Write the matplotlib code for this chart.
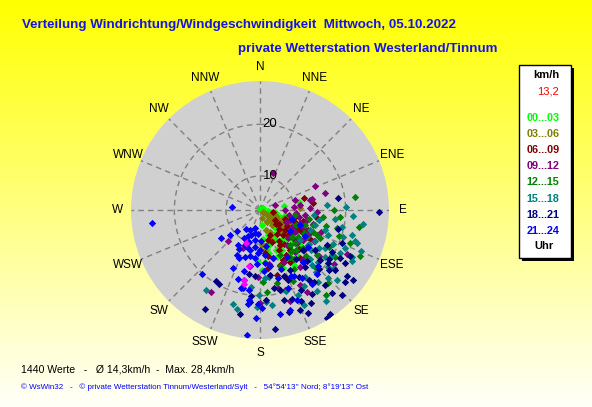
import numpy as np
import matplotlib
matplotlib.use("Agg")
import matplotlib.pyplot as plt
from matplotlib.patches import Rectangle

plt.rcParams['font.family'] = ['Liberation Sans', 'DejaVu Sans']

# wind direction (deg) / speed (km/h) per time slot
h00_03 = [(10, 3.6), (80, 8.1), (101, 6.5), (78, 11.1), (113, 11.8), (120, 13.9), (172, 6.3), (160, 7.9),
          (153, 9.9), (151, 12.2), (174, 13.5), (170, 14.3), (150, 14.6), (133, 11.4), (131, 13.7), (182, 13.5),
          (178, 15.0), (101, 8.3), (60, 4.0), (95, 5.0), (140, 8.0), (145, 10.5), (125, 9.0), (135, 12.5),
          (155, 11.5), (165, 10.5), (168, 12.0), (160, 13.0), (145, 13.5), (115, 10.0), (130, 10.0), (140, 15.0),
          (175, 9.0), (158, 15.5), (110, 7.5), (120, 12.0), (148, 16.0), (162, 8.5), (128, 7.0), (150, 9.0),
          (137, 10.8), (122, 11.0), (158, 11.8), (143, 12.0), (170, 11.0), (132, 8.5)]
h03_06 = [(124, 4.1), (125, 5.1), (125, 5.7), (123, 6.6), (121, 7.5), (119, 8.2), (118, 9.1), (118, 10.0),
          (119, 11.0), (111, 6.7), (141, 5.9), (141, 7.1), (108, 8.3), (166, 5.0), (132, 8.6), (128, 10.3),
          (163, 7.5), (177, 10.2), (173, 11.2), (87, 11.2), (120, 4.8), (127, 6.2), (116, 7.0), (122, 8.8),
          (114, 9.5), (130, 7.0), (135, 6.5), (112, 10.5), (150, 6.0), (126, 9.5), (118, 5.5), (140, 9.0),
          (155, 8.0), (160, 9.5), (120, 11.5), (124, 7.8), (117, 6.0), (122, 10.2), (129, 8.0), (133, 9.5),
          (110, 9.0), (126, 11.0)]
h06_09 = [(75, 12.2), (98, 14.6), (109, 10.6), (132, 10.7), (83, 13.8), (99, 5.9), (126, 8.0), (173, 11.7),
          (165, 16.4), (160, 17.3), (172, 14.7), (124, 6.9), (129, 9.6), (131, 12.3), (150, 11.2), (117, 12.1),
          (143, 13.1), (158, 8.6), (132, 15.0), (110, 8.5), (115, 11.0), (120, 9.5), (138, 10.0), (145, 9.0),
          (150, 13.5), (155, 12.0), (160, 10.0), (165, 13.0), (125, 13.5), (135, 14.0), (105, 12.0), (140, 15.5),
          (150, 15.0), (120, 14.5), (100, 10.5), (165, 9.5), (130, 7.5), (145, 11.5), (112, 13.5), (170, 12.5),
          (118, 12.8), (128, 11.0), (142, 12.5), (135, 8.5), (155, 14.0), (148, 10.5), (123, 10.8), (160, 14.8)]
h09_12 = [(19, 11.0), (66, 15.0), (75, 16.4), (78, 13.7), (100, 9.2), (117, 22.3), (126, 21.2), (162, 22.0),
          (150, 21.8), (226, 12.0), (211, 21.9), (204, 11.5), (182, 16.4), (180, 21.4), (167, 18.9), (74, 10.4),
          (83, 11.2), (90, 8.2), (108, 9.6), (96, 12.1), (72, 6.5), (79, 13.3), (163, 19.7), (152, 19.9),
          (100, 11.0), (112, 12.5), (118, 10.5), (125, 13.5), (130, 12.0), (140, 14.0), (135, 11.0), (88, 13.0),
          (85, 10.0), (105, 14.0), (120, 15.5), (145, 17.0), (155, 14.5), (128, 18.0), (115, 9.0), (95, 10.5),
          (110, 16.0), (92, 14.5), (170, 14.0), (138, 16.0), (122, 11.5), (132, 13.0), (108, 11.5), (102, 12.8),
          (142, 12.0), (126, 16.5), (116, 14.0)]
h12_15 = [(82, 22.0), (90, 17.7), (100, 22.9), (115, 24.7), (137, 22.8), (142, 24.3), (110, 21.9), (103, 18.7),
          (114, 15.4), (96, 15.6), (175, 19.3), (167, 17.9), (178, 17.3), (98, 10.2), (108, 12.5), (139, 12.3),
          (115, 16.2), (156, 12.9), (120, 14.0), (125, 12.5), (132, 14.5), (145, 15.0), (150, 16.5), (118, 18.5),
          (128, 17.5), (104, 16.5), (135, 16.0), (112, 11.0), (142, 13.5), (160, 15.0), (100, 13.0), (122, 20.5),
          (136, 19.0), (155, 18.5), (108, 19.5), (95, 19.0), (130, 11.5), (126, 14.8), (138, 13.8), (118, 13.0),
          (148, 14.2), (113, 14.5), (133, 12.8), (106, 14.0)]
h15_18 = [(86, 16.4), (88, 20.1), (94, 21.4), (97, 18.0), (108, 22.7), (109, 23.2), (102, 19.7), (108, 20.3),
          (117, 23.4), (119, 23.7), (122, 19.9), (126, 18.9), (135, 22.0), (141, 21.3), (144, 25.3), (155, 23.7),
          (156, 21.4), (137, 18.1), (105, 21.8), (114, 21.4), (132, 23.6), (214, 22.0), (196, 22.4), (193, 23.0),
          (187, 18.5), (182, 22.2), (173, 22.0), (176, 21.2), (176, 16.6), (172, 16.6), (181, 19.9), (127, 13.1),
          (112, 13.9), (119, 15.6), (100, 15.0), (110, 17.5), (115, 19.0), (123, 17.0), (130, 20.5), (128, 16.0),
          (138, 19.5), (146, 19.0), (150, 20.5), (105, 14.5), (95, 14.0), (118, 21.0), (134, 17.0), (162, 20.0),
          (112, 24.5), (98, 23.5), (125, 15.0), (132, 18.5), (120, 18.0), (140, 16.5), (107, 16.5), (145, 22.5),
          (128, 21.5)]
h18_21 = [(212, 19.6), (209, 19.7), (209, 25.3), (191, 23.9), (186, 20.2), (186, 21.4), (173, 26.7), (190, 16.0),
          (184, 16.2), (81, 18.7), (91, 26.5), (127, 24.5), (130, 25.0), (136, 26.3), (148, 28.0), (151, 23.9),
          (158, 24.3), (164, 23.9), (139, 24.8), (129, 22.0), (146, 27.8), (130, 18.5), (131, 21.2), (145, 20.0),
          (153, 20.7), (139, 22.6), (126, 16.6), (121, 21.4), (122, 22.8), (117, 22.9), (171, 16.2), (166, 19.3),
          (165, 21.4), (176, 20.8), (153, 16.4), (135, 19.5), (142, 17.5), (125, 19.8), (148, 22.5), (158, 18.0),
          (118, 18.0), (112, 20.5), (160, 21.8), (133, 14.8), (144, 15.2), (170, 18.8), (155, 25.5), (104, 19.0),
          (127, 26.0), (137, 16.8), (150, 18.5), (143, 20.8), (128, 20.2), (160, 17.0), (156, 22.8), (120, 19.5)]
h21_24 = [(276, 8.8), (263, 24.5), (234, 12.7), (230, 11.0), (228, 9.4), (216, 8.0), (207, 13.2), (204, 13.5),
          (205, 15.8), (222, 20.1), (198, 17.5), (192, 18.9), (188, 19.1), (187, 21.0), (182, 24.3), (186, 27.8),
          (187, 21.8), (179, 22.4), (181, 21.6), (193, 17.3), (194, 19.0), (169, 24.0), (207, 7.7), (189, 9.2),
          (180, 11.2), (194, 11.4), (174, 12.1), (203, 10.8), (200, 8.5), (196, 7.0), (210, 9.6), (185, 8.0),
          (198, 13.0), (190, 14.5), (183, 13.8), (176, 15.2), (212, 11.5), (200, 9.9), (188, 10.6), (178, 9.5),
          (195, 15.6), (208, 12.0), (170, 10.5), (165, 13.0), (111, 11.7), (148, 18.9), (163, 23.6), (134, 18.9),
          (155, 17.5), (145, 21.0), (160, 19.5), (128, 15.2), (140, 16.5), (150, 14.0), (120, 13.5), (158, 22.3),
          (138, 20.0), (165, 17.0), (105, 9.8), (125, 10.5), (183, 11.8), (192, 12.5), (199, 11.0), (186, 12.8),
          (175, 13.8), (170, 14.5), (160, 15.5), (153, 17.8), (205, 9.0), (193, 8.0)]
latest = [(203, 10.4), (193, 17.3), (191, 14.4), (192, 18.0)]

groups = [h00_03, h03_06, h06_09, h09_12, h12_15, h15_18, h18_21, h21_24]
colors = ['#00ff00', '#808000', '#800000', '#800080', '#008000', '#008080', '#000080', '#0000ff']
labels = ['00...03', '03...06', '06...09', '09...12', '12...15', '15...18', '18...21', '21...24']
dirs16 = ['N', 'NNE', 'NE', 'ENE', 'E', 'ESE', 'SE', 'SSE', 'S', 'SSW', 'SW', 'WSW', 'W', 'WNW', 'NW', 'NNW']
v_min, v_max = 3.4, 28.4

W, H = 592, 407
fig = plt.figure(figsize=(W / 100, H / 100), dpi=100)

# background gradient yellow -> pale
bg = fig.add_axes([0, 0, 1, 1])
grad = np.linspace(0, 1, 256)[:, None]
img = np.zeros((256, 1, 3))
img[..., 0] = 1
img[..., 1] = 1
img[..., 2] = grad * 0.98
bg.imshow(img, aspect='auto', extent=[0, 1, 0, 1], origin='upper')
bg.set_xlim(0, 1)
bg.set_ylim(0, 1)
bg.axis('off')

cx, cy, R = 260, 210, 129
ax = fig.add_axes([(cx - R) / W, (H - cy - R) / H, 2 * R / W, 2 * R / H], projection='polar')
ax.set_facecolor('#d0d0d0')
ax.set_theta_zero_location('N')
ax.set_theta_direction(-1)
ax.set_ylim(v_min, v_max)
ax.set_xticks(np.deg2rad(np.arange(0, 360, 22.5)))
ax.set_xticklabels([])
ax.set_yticks([10, 20])
ax.set_yticklabels([])
ax.grid(True, color='#808080', linestyle=(0, (4, 3)), linewidth=1.0)
ax.spines['polar'].set_visible(False)

for grp, col in zip(groups, colors):
    d = np.deg2rad([p[0] for p in grp])
    s = [p[1] for p in grp]
    ax.scatter(d, s, marker='D', s=14, color=col, linewidths=0, zorder=3)
d = np.deg2rad([p[0] for p in latest])
s = [p[1] for p in latest]
ax.scatter(d, s, marker='D', s=14, color='#ff00ff', linewidths=0, zorder=3)

for v in [10, 20]:
    ax.annotate(str(v), (0, v), xytext=(2, 0), textcoords='offset points',
                ha='left', va='center', fontsize=9.5, zorder=4)

for i, name in enumerate(dirs16):
    a = np.deg2rad(i * 22.5)
    ax.text(0.5 + 0.554 * np.sin(a), 0.5 + 0.554 * np.cos(a), name, transform=ax.transAxes,
            ha='center', va='center', fontsize=8.5)

# titles
fig.text(22 / W, 1 - 25 / H, 'Verteilung Windrichtung/Windgeschwindigkeit  Mittwoch, 05.10.2022',
         color='#1414e6', fontsize=9.6, fontweight='bold', ha='left', va='center')
fig.text(238 / W, 1 - 49 / H, 'private Wetterstation Westerland/Tinnum',
         color='#1414e6', fontsize=9.6, fontweight='bold', ha='left', va='center')

# legend box
bx0, by0, bx1, by1 = 519, 65, 571, 258
fig.patches.append(Rectangle(((bx0 + 3) / W, 1 - (by1 + 3) / H), (bx1 - bx0) / W, (by1 - by0) / H,
                             transform=fig.transFigure, facecolor='black', edgecolor='none', zorder=1))
fig.patches.append(Rectangle((bx0 / W, 1 - by1 / H), (bx1 - bx0) / W, (by1 - by0) / H,
                             transform=fig.transFigure, facecolor='white', edgecolor='black', linewidth=1, zorder=2))
fig.text(546 / W, 1 - 75 / H, 'km/h', fontsize=8, fontweight='bold', ha='center', va='center')
fig.text(559 / W, 1 - 92 / H, '13,2', fontsize=8, color='#ff0000', ha='right', va='center')
for i, (lab, col) in enumerate(zip(labels, colors)):
    fig.text(543 / W, 1 - (118 + i * 16.1) / H, lab, fontsize=7.8, fontweight='bold', color=col,
             ha='center', va='center')
fig.text(544 / W, 1 - 246 / H, 'Uhr', fontsize=8, fontweight='bold', ha='center', va='center')

# footer
fig.text(21 / W, 1 - 370 / H, '1440 Werte   -   Ø 14,3km/h  -  Max. 28,4km/h', fontsize=7.6,
         ha='left', va='center')
fig.text(21 / W, 1 - 387 / H,
         "© WsWin32   -   © private Wetterstation Tinnum/Westerland/Sylt   -   54°54'13'' Nord; 8°19'13'' Ost",
         fontsize=5.8, color='#0000ff', ha='left', va='center')

fig.savefig('out.png', dpi=100)
